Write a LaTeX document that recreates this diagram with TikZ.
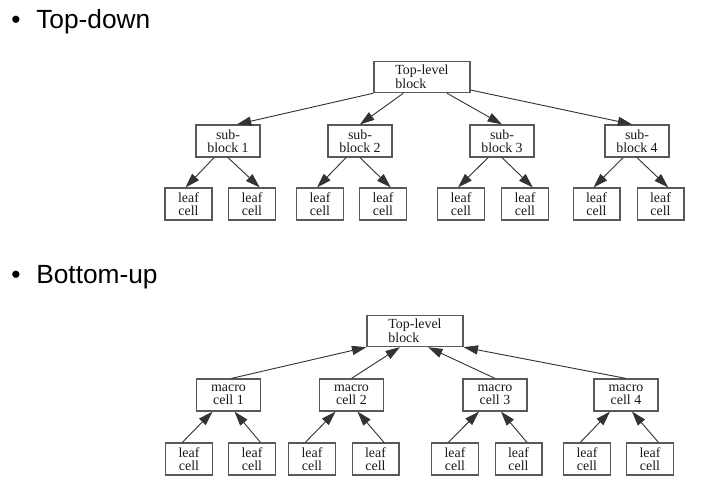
\documentclass[tikz,border=0pt]{standalone}
\usepackage{fontspec}
\setmainfont{Liberation Serif}
\newfontfamily\headfont{Liberation Sans}
\usepackage{tikz}
\usetikzlibrary{arrows.meta}

\begin{document}
\begin{tikzpicture}[
    x=0.025cm, y=-0.025cm,
    cellbox/.style={rectangle, draw=black!65, line width=0.85pt, inner sep=0pt, align=center, text=black!90, font=\fontsize{9.9}{8.9}\selectfont},
    topbox/.style={cellbox, minimum width=2.4cm, minimum height=0.78cm, align=left},
    midbox/.style={cellbox, minimum width=1.6cm, minimum height=0.8cm},
    leafbox/.style={cellbox, minimum width=1.17cm, minimum height=0.8cm},
    heading/.style={anchor=base west, inner sep=0pt, font=\headfont\fontsize{18.7}{22}\selectfont},
    arrow/.style={-{Triangle[length=3.6mm, width=2.3mm]}, draw=black!80, line width=0.65pt}
]
    \useasboundingbox (0,0) rectangle (710,500);

    % headings
    \node[heading] (bullet1) at (11,28) {\textbullet};
    \node[heading] (title1) at (36,28) {Top-down};
    \node[heading] (bullet2) at (11,283) {\textbullet};
    \node[heading] (title2) at (36,283) {Bottom-up};

    % top-down tree
    \node[topbox] (tdtop) at (422,77) {Top-level\\block};
    \node[midbox] (tdsub1) at (228,141) {sub-\\block 1};
    \node[midbox] (tdsub2) at (360,141) {sub-\\block 2};
    \node[midbox] (tdsub3) at (502,141) {sub-\\block 3};
    \node[midbox] (tdsub4) at (637,141) {sub-\\block 4};

    \node[leafbox] (tdleaf1) at (188.5,204) {leaf\\cell};
    \node[leafbox] (tdleaf2) at (252,204) {leaf\\cell};
    \node[leafbox] (tdleaf3) at (320,204) {leaf\\cell};
    \node[leafbox] (tdleaf4) at (383,204) {leaf\\cell};
    \node[leafbox] (tdleaf5) at (461,204) {leaf\\cell};
    \node[leafbox] (tdleaf6) at (525,204) {leaf\\cell};
    \node[leafbox] (tdleaf7) at (596.5,204) {leaf\\cell};
    \node[leafbox] (tdleaf8) at (660.5,204) {leaf\\cell};

    \draw[arrow] (tdtop.south west) -- (tdsub1.62);
    \draw[arrow] (tdtop.221) -- (tdsub2.north);
    \draw[arrow] (tdtop.327) -- (tdsub3.north);
    \draw[arrow] (tdtop.345) -- (tdsub4.106);

    \draw[arrow] (tdsub1.230) -- (tdleaf1.100);
    \draw[arrow] (tdsub1.south) -- (tdleaf2.65);
    \draw[arrow] (tdsub2.230) -- (tdleaf3.100);
    \draw[arrow] (tdsub2.south) -- (tdleaf4.65);
    \draw[arrow] (tdsub3.230) -- (tdleaf5.100);
    \draw[arrow] (tdsub3.south) -- (tdleaf6.65);
    \draw[arrow] (tdsub4.230) -- (tdleaf7.100);
    \draw[arrow] (tdsub4.south) -- (tdleaf8.65);

    % bottom-up tree
    \node[topbox] (butop) at (415,331) {Top-level\\block};
    \node[midbox] (bumac1) at (228.5,395) {macro\\cell 1};
    \node[midbox] (bumac2) at (351.5,395) {macro\\cell 2};
    \node[midbox] (bumac3) at (495,395) {macro\\cell 3};
    \node[midbox] (bumac4) at (626,395) {macro\\cell 4};

    \node[leafbox] (buleaf1) at (189,459) {leaf\\cell};
    \node[leafbox] (buleaf2) at (252,459) {leaf\\cell};
    \node[leafbox] (buleaf3) at (312,459) {leaf\\cell};
    \node[leafbox] (buleaf4) at (375.5,459) {leaf\\cell};
    \node[leafbox] (buleaf5) at (455,459) {leaf\\cell};
    \node[leafbox] (buleaf6) at (518.5,459) {leaf\\cell};
    \node[leafbox] (buleaf7) at (587,459) {leaf\\cell};
    \node[leafbox] (buleaf8) at (650,459) {leaf\\cell};

    \draw[arrow] (buleaf1.112) -- (bumac1.226);
    \draw[arrow] (buleaf2.63) -- (bumac1.290);
    \draw[arrow] (buleaf3.112) -- (bumac2.226);
    \draw[arrow] (buleaf4.63) -- (bumac2.290);
    \draw[arrow] (buleaf5.112) -- (bumac3.226);
    \draw[arrow] (buleaf6.63) -- (bumac3.290);
    \draw[arrow] (buleaf7.112) -- (bumac4.226);
    \draw[arrow] (buleaf8.63) -- (bumac4.290);

    \draw[arrow] (bumac1.80) -- (butop.south west);
    \draw[arrow] (bumac2.north) -- (butop.227);
    \draw[arrow] (bumac3.north) -- (butop.309);
    \draw[arrow] (bumac4.north) -- (butop.south east);
\end{tikzpicture}
\end{document}
